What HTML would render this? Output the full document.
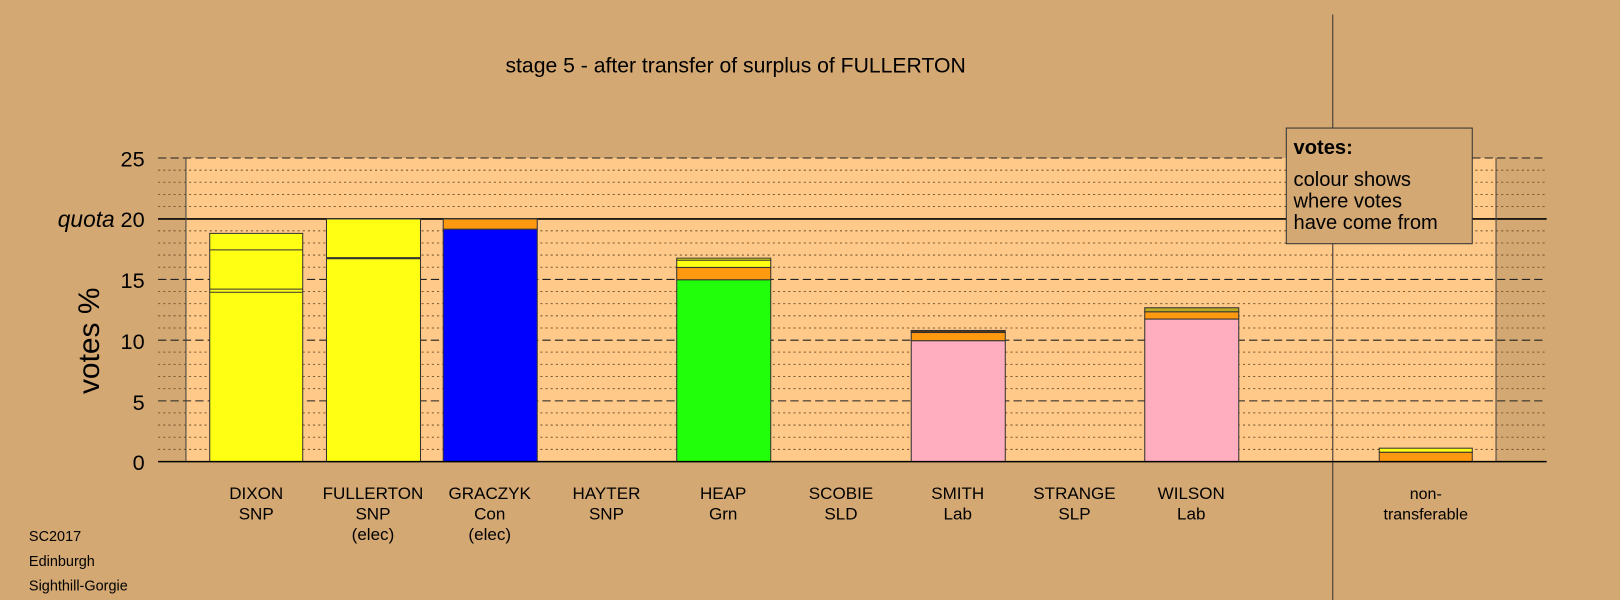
<!DOCTYPE html>
<html><head><meta charset="utf-8"><style>body{margin:0;background:#D4A873}svg{display:block}text{font-family:"Liberation Sans",sans-serif;fill:#000}</style></head><body>
<svg width="1620" height="600" viewBox="0 0 1568 581" preserveAspectRatio="none">
<rect width="1568" height="581" fill="#D4A873"/>
<rect x="180" y="153" width="1268" height="294" fill="#FFC98A"/>
<g stroke="#7a5a30" stroke-width="1" stroke-dasharray="2,3">
<line x1="153" x2="1497" y1="164.8" y2="164.8"/><line x1="153" x2="1497" y1="176.5" y2="176.5"/><line x1="153" x2="1497" y1="188.3" y2="188.3"/><line x1="153" x2="1497" y1="200" y2="200"/>
<line x1="153" x2="1497" y1="223.5" y2="223.5"/><line x1="153" x2="1497" y1="235.3" y2="235.3"/><line x1="153" x2="1497" y1="247" y2="247"/><line x1="153" x2="1497" y1="258.8" y2="258.8"/>
<line x1="153" x2="1497" y1="282.3" y2="282.3"/><line x1="153" x2="1497" y1="294" y2="294"/><line x1="153" x2="1497" y1="305.8" y2="305.8"/><line x1="153" x2="1497" y1="317.6" y2="317.6"/>
<line x1="153" x2="1497" y1="341" y2="341"/><line x1="153" x2="1497" y1="352.8" y2="352.8"/><line x1="153" x2="1497" y1="364.6" y2="364.6"/><line x1="153" x2="1497" y1="376.3" y2="376.3"/>
<line x1="153" x2="1497" y1="399.8" y2="399.8"/><line x1="153" x2="1497" y1="411.6" y2="411.6"/><line x1="153" x2="1497" y1="423.4" y2="423.4"/><line x1="153" x2="1497" y1="435.2" y2="435.2"/>
</g>
<g stroke="#222" stroke-width="1" stroke-dasharray="8,4">
<line x1="153" x2="1497" y1="153" y2="153"/><line x1="153" x2="1497" y1="270.6" y2="270.6"/><line x1="153" x2="1497" y1="329.4" y2="329.4"/><line x1="153" x2="1497" y1="388.2" y2="388.2"/>
</g>
<line x1="153" x2="1497" y1="212" y2="212" stroke="#000" stroke-width="1.5"/>
<line x1="180" x2="180" y1="153" y2="447" stroke="#444"/>
<line x1="1448" x2="1448" y1="153" y2="447" stroke="#444"/>
<line x1="1290" x2="1290" y1="14" y2="581" stroke="#333"/>
<g stroke="#333" stroke-width="1">
<rect x="203" y="226" width="90" height="221" fill="#FFFF14"/>
<line x1="203" x2="293" y1="242" y2="242"/><line x1="203" x2="293" y1="280" y2="280"/><line x1="203" x2="293" y1="283" y2="283"/>
<rect x="316" y="212" width="91" height="235" fill="#FFFF14"/>
<line x1="316" x2="407" y1="250" y2="250" stroke-width="2"/>
<rect x="429" y="212" width="91" height="10" fill="#FF9910"/>
<rect x="429" y="222" width="91" height="225" fill="#0000FF"/>
<rect x="655" y="250" width="91" height="2" fill="#FFFF14"/>
<rect x="655" y="252" width="91" height="7" fill="#FFFF14"/>
<rect x="655" y="259" width="91" height="12" fill="#FF9910"/>
<rect x="655" y="271" width="91" height="176" fill="#22FF0A"/>
<rect x="882" y="320" width="91" height="2" fill="#553311"/>
<rect x="882" y="322" width="91" height="8" fill="#FF9910"/>
<rect x="882" y="330" width="91" height="117" fill="#FFAEC0"/>
<rect x="1108" y="298" width="91" height="4" fill="#BBAA20"/>
<rect x="1108" y="302" width="91" height="7" fill="#FF9910"/>
<rect x="1108" y="309" width="91" height="138" fill="#FFAEC0"/>
<rect x="1335" y="434" width="90" height="4" fill="#FFFF14"/>
<rect x="1335" y="438" width="90" height="9" fill="#FF9910"/>
</g>
<line x1="153" x2="1497" y1="447" y2="447" stroke="#000" stroke-width="1.5"/>
<g font-size="21" text-anchor="end">
<text x="140" y="161">25</text><text x="140" y="220">20</text><text x="140" y="279">15</text><text x="140" y="338">10</text><text x="140" y="397">5</text><text x="140" y="455">0</text>
</g>
<text x="111" y="220" font-size="22" font-style="italic" text-anchor="end">quota</text>
<text transform="translate(96,330) rotate(-90)" font-size="29" text-anchor="middle">votes %</text>
<text x="712" y="70" font-size="20.5" text-anchor="middle">stage 5 - after transfer of surplus of FULLERTON</text>
<g font-size="16.5" text-anchor="middle">
<text x="248" y="483">DIXON</text><text x="248" y="503">SNP</text>
<text x="361" y="483">FULLERTON</text><text x="361" y="503">SNP</text><text x="361" y="523">(elec)</text>
<text x="474" y="483">GRACZYK</text><text x="474" y="503">Con</text><text x="474" y="523">(elec)</text>
<text x="587" y="483">HAYTER</text><text x="587" y="503">SNP</text>
<text x="700" y="483">HEAP</text><text x="700" y="503">Grn</text>
<text x="814" y="483">SCOBIE</text><text x="814" y="503">SLD</text>
<text x="927" y="483">SMITH</text><text x="927" y="503">Lab</text>
<text x="1040" y="483">STRANGE</text><text x="1040" y="503">SLP</text>
<text x="1153" y="483">WILSON</text><text x="1153" y="503">Lab</text>
<text x="1380" y="483" font-size="15.5">non-</text><text x="1380" y="503" font-size="15.5">transferable</text>
</g>
<g font-size="14"><text x="28" y="524">SC2017</text><text x="28" y="548">Edinburgh</text><text x="28" y="572">Sighthill-Gorgie</text></g>
<rect x="1245" y="124" width="180" height="112" fill="#D4A873" stroke="#333"/>
<text x="1252" y="149" font-size="19.5" font-weight="bold">votes:</text>
<g font-size="19.5"><text x="1252" y="180">colour shows</text><text x="1252" y="201">where votes</text><text x="1252" y="222">have come from</text></g>
</svg>
</body></html>
